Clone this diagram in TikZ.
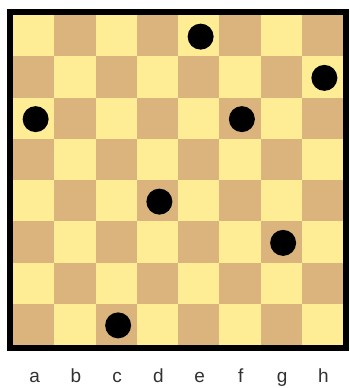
\documentclass[tikz,border=0pt]{standalone}
\usepackage{fontspec}
\setmainfont{Liberation Sans}
\definecolor{lightsq}{RGB}{255,237,150}
\definecolor{darksq}{RGB}{218,180,124}
\definecolor{labelgray}{RGB}{50,50,50}
\tikzset{
  queen/.style={circle,fill=black,minimum size=26pt,inner sep=0pt},
  filelabel/.style={text=labelgray,font=\fontsize{19}{19}\selectfont,anchor=base}
}
\begin{document}
\begin{tikzpicture}[x=1pt,y=-1pt]
\useasboundingbox (0,0) rectangle (350,388);
\fill[white] (0,0) rectangle (350,388);
\def\sq{41.25}
\foreach \c in {0,...,7}{
  \foreach \r in {0,...,7}{
    \pgfmathtruncatemacro{\sqpar}{mod(\c+\r,2)}
    \ifnum\sqpar=0
      \fill[lightsq] (13+\c*\sq,15+\r*\sq) rectangle ++(\sq,\sq);
    \else
      \fill[darksq] (13+\c*\sq,15+\r*\sq) rectangle ++(\sq,\sq);
    \fi
  }
}
\draw[line width=6pt] (10,12) rectangle (346,348);
% queens: (col,row) 0-indexed from top-left
\foreach \c/\r/\n in {4/0/e8,7/1/h7,0/2/a6,5/2/f6,3/4/d4,6/5/g3,2/7/c1}{
  \node[queen] (q\n) at (13+\c*\sq+0.5*\sq+2,15+\r*\sq+0.5*\sq+1) {};
}
\foreach \c/\l in {0/a,1/b,2/c,3/d,4/e,5/f,6/g,7/h}{
  \node[filelabel] (lab\l) at (13+\c*\sq+0.5*\sq+1,382) {\l};
}
\end{tikzpicture}
\end{document}
